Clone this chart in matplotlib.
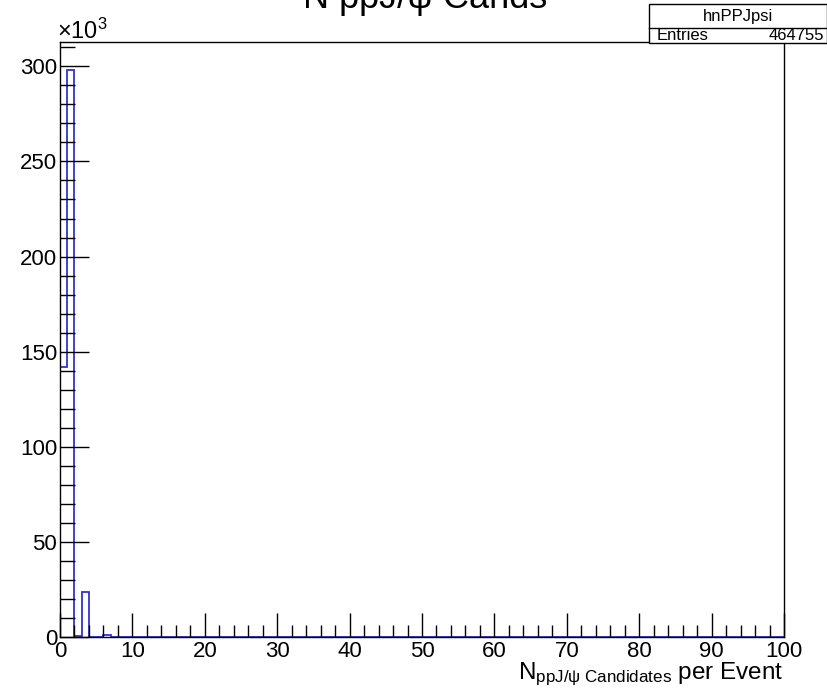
import numpy as np
import matplotlib
matplotlib.use("Agg")
import matplotlib.pyplot as plt
from matplotlib.ticker import MultipleLocator

plt.rcParams['font.family'] = ['Liberation Sans', 'DejaVu Sans']
plt.rcParams['mathtext.fontset'] = 'custom'
plt.rcParams['mathtext.rm'] = 'Liberation Sans'
plt.rcParams['mathtext.it'] = 'Liberation Sans'

# ---------------------------------------------
# Histogram contents (one bin per candidate count, 0..100)
# ---------------------------------------------
first_bins = [141700, 297900, 600, 23500, 0, 0, 1000]
n_bins = 100
counts = np.array(first_bins + [0] * (n_bins - len(first_bins)), dtype=float)
edges = np.arange(0, n_bins + 1)

hist_name = "hnPPJpsi"
entries = 464755
title = "N ppJ/\u03c8 Cands"

# ---------------------------------------------
# Figure / axes in ROOT canvas style
# ---------------------------------------------
fig = plt.figure(figsize=(8.28, 7.0), dpi=100)
ax = fig.add_axes([60 / 828, 63 / 700, 724 / 828, 595 / 700])

ax.stairs(counts / 1000.0, edges, color="#3333cc", linewidth=1.3, baseline=0)

ax.set_xlim(0, 100)
ax.set_ylim(0, counts.max() / 1000.0 * 1.05)

ax.xaxis.set_major_locator(MultipleLocator(10))
ax.xaxis.set_minor_locator(MultipleLocator(2))
ax.yaxis.set_major_locator(MultipleLocator(50))
ax.yaxis.set_minor_locator(MultipleLocator(10))

ax.tick_params(axis="x", which="major", direction="in", length=17, width=1,
               labelsize=16, pad=3, top=False)
ax.tick_params(axis="x", which="minor", direction="in", length=9, width=1, top=False)
ax.tick_params(axis="y", which="major", direction="in", length=21, width=1,
               labelsize=16, pad=2, right=False)
ax.tick_params(axis="y", which="minor", direction="in", length=11, width=1, right=False)

for s in ax.spines.values():
    s.set_linewidth(1)

ax.text(1.0, -42 / 595, r"$\mathrm{N}_{\mathrm{ppJ/\psi\ Candidates}}$ per Event",
        transform=ax.transAxes, ha="right", va="baseline", fontsize=17.5)

# exponent marker at top of y-axis
fig.text(57 / 828, 1 - 39 / 700, r"$\times10^{3}$", fontsize=17, ha="left", va="baseline")

# title (clipped at top like the canvas)
fig.text(425 / 828, 1 - 8 / 700, title, fontsize=26, ha="center", va="baseline")

# stats box
bx0, by0, bx1, by1 = 649 / 828, 1 - 43 / 700, 827 / 828, 1 - 4 / 700
bmid = 1 - 28 / 700
fig.add_artist(plt.Rectangle((bx0, by0), bx1 - bx0, by1 - by0, transform=fig.transFigure,
                             fill=True, facecolor="white", edgecolor="black", linewidth=1))
fig.add_artist(plt.Line2D([bx0, bx1], [bmid, bmid], transform=fig.transFigure,
                          color="black", linewidth=1))
fig.text((bx0 + bx1) / 2, (bmid + by1) / 2, hist_name, fontsize=12, ha="center", va="center")
fig.text(bx0 + 8 / 828, (by0 + bmid) / 2, "Entries", fontsize=12, ha="left", va="center")
fig.text(bx1 - 3 / 828, (by0 + bmid) / 2, str(entries), fontsize=12, ha="right", va="center")

fig.savefig("out.png", dpi=100)
